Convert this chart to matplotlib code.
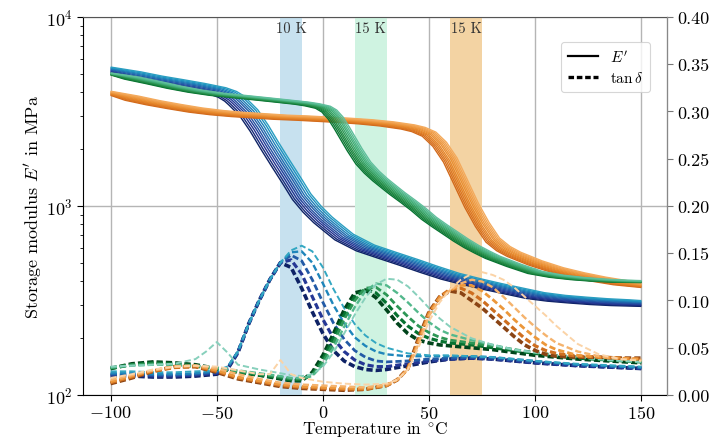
import numpy as np
import matplotlib
matplotlib.use("Agg")
import matplotlib.pyplot as plt
from matplotlib.lines import Line2D
from matplotlib.colors import LinearSegmentedColormap
from matplotlib.ticker import FormatStrFormatter, MultipleLocator

plt.rcParams.update({
    "font.family": "serif",
    "font.serif": ["cmr10"],
    "mathtext.fontset": "cm",
    "axes.formatter.use_mathtext": True,
    "lines.scale_dashes": False,
})

# ---------------- data ----------------
# Storage modulus E' (MPa): base curve per material + per-curve offsets
T_E_BLUE = [-100, -90, -80, -70, -60, -50, -45, -42, -40, -35, -30, -25, -20, -15, -10, -5, 0, 5, 10,
            20, 30, 40, 50, 60, 70, 80, 90, 100, 110, 120, 130, 140, 150]
E_BLUE = [5250, 4950, 4700, 4500, 4300, 4080, 3900, 3720, 3550, 3120, 2580, 2080, 1690, 1380, 1120, 960,
          845, 760, 685, 600, 550, 505, 462, 425, 398, 375, 355, 336, 325, 318, 312, 308, 305]

T_E_GREEN = [-100, -90, -80, -70, -60, -50, -40, -30, -20, -10, -5, 0, 3, 6, 9, 12, 15, 19, 23, 27, 31,
             35, 40, 45, 50, 55, 60, 65, 70, 75, 80, 90, 100, 110, 120, 130, 140, 150]
E_GREEN = [5000, 4750, 4500, 4250, 4050, 3900, 3800, 3700, 3600, 3500, 3430, 3330, 3180, 2920, 2580,
           2260, 1980, 1690, 1510, 1375, 1265, 1165, 1060, 960, 860, 785, 720, 660, 610, 570, 535, 485,
           445, 425, 413, 405, 400, 398]

T_E_ORANGE = [-100, -90, -80, -70, -60, -50, -40, -30, -20, -10, 0, 10, 20, 30, 40, 45, 50, 55, 60, 65,
              70, 75, 80, 85, 90, 100, 110, 120, 130, 140, 150]
E_ORANGE = [3950, 3720, 3520, 3360, 3220, 3120, 3050, 3000, 2950, 2920, 2880, 2840, 2790, 2720, 2620,
            2540, 2400, 2120, 1750, 1330, 1010, 800, 660, 595, 555, 500, 460, 432, 410, 393, 380]

# per-curve temperature offsets (K) and modulus factors of the fan of repeated measurements
DT_BLUE = [-4.3, -3.4, -2.4, -1.4, -0.5, 0.5, 1.4, 2.4, 3.4, 4.3]
F_BLUE = [0.965, 0.973, 0.981, 0.988, 0.996, 1.004, 1.012, 1.019, 1.027, 1.035]
DT_GREEN = [-3.5, -2.7, -1.9, -1.2, -0.4, 0.4, 1.2, 1.9, 2.7, 3.5]
F_GREEN = [0.988, 0.991, 0.993, 0.996, 0.999, 1.001, 1.004, 1.007, 1.009, 1.012]
DT_ORANGE = [-3.2, -2.5, -1.8, -1.1, -0.4, 0.4, 1.1, 1.8, 2.5, 3.2]
F_ORANGE = [0.975, 0.981, 0.986, 0.992, 0.997, 1.003, 1.008, 1.014, 1.019, 1.025]

# loss factor tan(delta)
T_TAN_BLUE = [-100, -90, -80, -70, -60, -50, -45, -40, -35, -30, -25, -20, -15, -10, -5, 0, 5, 10, 15,
              20, 25, 30, 40, 50, 60, 70, 80, 90, 100, 120, 150]
TAN_BLUE = [
    [0.020, 0.020, 0.019, 0.019, 0.020, 0.022, 0.027, 0.045, 0.075, 0.100, 0.122, 0.140, 0.135, 0.113,
     0.088, 0.065, 0.047, 0.036, 0.030, 0.027, 0.026, 0.027, 0.031, 0.035, 0.038, 0.039, 0.038, 0.036,
     0.034, 0.031, 0.028],
    [0.021, 0.021, 0.020, 0.020, 0.021, 0.023, 0.028, 0.045, 0.075, 0.100, 0.122, 0.140, 0.143, 0.128,
     0.104, 0.080, 0.060, 0.046, 0.037, 0.032, 0.030, 0.030, 0.033, 0.036, 0.038, 0.039, 0.038, 0.036,
     0.034, 0.031, 0.028],
    [0.022, 0.022, 0.021, 0.021, 0.022, 0.024, 0.028, 0.046, 0.075, 0.100, 0.122, 0.140, 0.148, 0.142,
     0.122, 0.098, 0.076, 0.059, 0.047, 0.040, 0.036, 0.035, 0.036, 0.038, 0.039, 0.040, 0.039, 0.037,
     0.035, 0.032, 0.029],
    [0.023, 0.023, 0.022, 0.022, 0.023, 0.025, 0.029, 0.046, 0.075, 0.100, 0.122, 0.140, 0.151, 0.152,
     0.140, 0.118, 0.095, 0.076, 0.061, 0.052, 0.046, 0.043, 0.041, 0.041, 0.041, 0.041, 0.040, 0.038,
     0.036, 0.032, 0.029],
    [0.025, 0.025, 0.024, 0.024, 0.025, 0.026, 0.030, 0.046, 0.075, 0.100, 0.122, 0.140, 0.153, 0.158,
     0.152, 0.135, 0.112, 0.092, 0.075, 0.063, 0.055, 0.050, 0.044, 0.042, 0.042, 0.041, 0.040, 0.038,
     0.036, 0.033, 0.030],
]

T_TAN_GREEN = [-100, -90, -80, -70, -60, -55, -50, -45, -40, -30, -20, -15, -10, -5, 0, 5, 10, 15, 20,
               25, 30, 35, 40, 45, 50, 55, 60, 70, 80, 90, 100, 110, 120, 135, 150]
TAN_GREEN = [
    [0.028, 0.033, 0.035, 0.034, 0.032, 0.030, 0.028, 0.026, 0.024, 0.021, 0.017, 0.015, 0.015, 0.024,
     0.042, 0.065, 0.090, 0.108, 0.111, 0.103, 0.090, 0.076, 0.065, 0.058, 0.055, 0.053, 0.052, 0.050,
     0.048, 0.045, 0.042, 0.040, 0.038, 0.036, 0.034],
    [0.028, 0.032, 0.034, 0.033, 0.031, 0.029, 0.028, 0.026, 0.024, 0.021, 0.018, 0.016, 0.016, 0.022,
     0.038, 0.060, 0.085, 0.104, 0.112, 0.108, 0.097, 0.084, 0.073, 0.065, 0.060, 0.057, 0.055, 0.053,
     0.050, 0.047, 0.044, 0.041, 0.039, 0.037, 0.035],
    [0.029, 0.032, 0.033, 0.032, 0.030, 0.029, 0.028, 0.026, 0.025, 0.022, 0.019, 0.017, 0.017, 0.021,
     0.035, 0.055, 0.080, 0.100, 0.113, 0.114, 0.106, 0.094, 0.083, 0.073, 0.066, 0.061, 0.058, 0.055,
     0.052, 0.048, 0.045, 0.042, 0.040, 0.037, 0.035],
    [0.029, 0.031, 0.032, 0.032, 0.031, 0.030, 0.029, 0.027, 0.026, 0.023, 0.020, 0.018, 0.018, 0.020,
     0.032, 0.050, 0.072, 0.093, 0.110, 0.118, 0.116, 0.108, 0.098, 0.087, 0.077, 0.069, 0.064, 0.058,
     0.053, 0.048, 0.045, 0.042, 0.040, 0.037, 0.035],
    [0.030, 0.031, 0.032, 0.033, 0.038, 0.046, 0.056, 0.045, 0.032, 0.027, 0.023, 0.021, 0.020, 0.022,
     0.030, 0.045, 0.065, 0.085, 0.103, 0.117, 0.123, 0.122, 0.115, 0.104, 0.092, 0.081, 0.072, 0.060,
     0.053, 0.048, 0.045, 0.042, 0.040, 0.037, 0.035],
]

T_TAN_ORANGE = [-100, -90, -80, -70, -60, -50, -40, -30, -25, -20, -15, -10, 0, 10, 20, 30, 35, 40, 45,
                50, 55, 60, 65, 70, 75, 80, 85, 90, 95, 100, 105, 110, 120, 130, 140, 150]
TAN_ORANGE = [
    [0.012, 0.018, 0.025, 0.030, 0.030, 0.024, 0.017, 0.013, 0.011, 0.009, 0.008, 0.007, 0.006, 0.005,
     0.006, 0.010, 0.016, 0.028, 0.060, 0.088, 0.104, 0.110, 0.108, 0.100, 0.092, 0.082, 0.072, 0.062,
     0.053, 0.047, 0.043, 0.041, 0.040, 0.040, 0.039, 0.039],
    [0.013, 0.019, 0.025, 0.029, 0.030, 0.025, 0.018, 0.014, 0.012, 0.010, 0.009, 0.008, 0.007, 0.006,
     0.006, 0.010, 0.016, 0.028, 0.058, 0.087, 0.104, 0.112, 0.113, 0.108, 0.100, 0.090, 0.080, 0.070,
     0.060, 0.052, 0.047, 0.044, 0.041, 0.040, 0.039, 0.038],
    [0.014, 0.020, 0.026, 0.030, 0.031, 0.026, 0.019, 0.015, 0.013, 0.011, 0.010, 0.009, 0.008, 0.007,
     0.007, 0.010, 0.016, 0.027, 0.056, 0.086, 0.103, 0.111, 0.116, 0.116, 0.110, 0.101, 0.091, 0.080,
     0.070, 0.061, 0.053, 0.048, 0.042, 0.040, 0.039, 0.038],
    [0.016, 0.021, 0.026, 0.030, 0.031, 0.028, 0.022, 0.017, 0.015, 0.013, 0.012, 0.011, 0.010, 0.009,
     0.008, 0.011, 0.016, 0.027, 0.054, 0.084, 0.101, 0.111, 0.118, 0.122, 0.120, 0.114, 0.104, 0.093,
     0.082, 0.072, 0.063, 0.055, 0.046, 0.041, 0.038, 0.037],
    [0.018, 0.022, 0.027, 0.030, 0.031, 0.030, 0.026, 0.022, 0.022, 0.037, 0.022, 0.018, 0.014, 0.012,
     0.011, 0.012, 0.016, 0.027, 0.050, 0.078, 0.098, 0.112, 0.122, 0.128, 0.130, 0.127, 0.122, 0.114,
     0.104, 0.094, 0.084, 0.073, 0.054, 0.043, 0.038, 0.036],
]

BAND_LEFT = [-20, 15, 60]
BAND_RIGHT = [-10, 30, 75]
BAND_LABELS = ["10 K", "15 K", "15 K"]

X_TICKS = [-100, -50, 0, 50, 100, 150]

# ---------------- styles ----------------
BAND_COLORS = ["#c7e1ef", "#cff3e1", "#f3d3a3"]
ORANGE_E_CMAP = LinearSegmentedColormap.from_list("oe", ["#f4aa5c", "#e88a2c", "#d2691a"])
ORANGE_T_CMAP = LinearSegmentedColormap.from_list(
    "ot", ["#fbd3a6", "#f5b36d", "#ec973a", "#cf6e1f", "#8a4414"])

# ---------------- figure ----------------
fig = plt.figure(figsize=(7.28, 4.39), dpi=100)
ax = fig.add_axes([0.114, 0.098, 0.802, 0.861])
ax2 = ax.twinx()
ax2.set_position([0.114, 0.098, 0.802, 0.861])

ax.set_xlim(-113, 162)
ax.set_yscale("log")
ax.set_ylim(100, 10000)
ax2.set_ylim(0, 0.40)

for l, r, c, lab in zip(BAND_LEFT, BAND_RIGHT, BAND_COLORS, BAND_LABELS):
    ax.axvspan(l, r, color=c, lw=0, zorder=1)
    ax.text((l + r) / 2, 0.971, lab, transform=ax.get_xaxis_transform(), ha="center", va="center",
            fontsize=10.5, color="#333333", zorder=3)

ax.set_xticks(X_TICKS)
ax.grid(True, which="major", color="#b5b5b5", lw=1.0, zorder=0)
ax.set_axisbelow(True)


def draw_fan(T, E, dts, fs, cmap, c0, c1, order_z):
    cm = plt.get_cmap(cmap) if isinstance(cmap, str) else cmap
    n = len(dts)
    for i, (dt, f) in enumerate(zip(dts, fs)):
        t = np.array(T, dtype=float)
        t[1:-1] = t[1:-1] + dt
        ax.plot(t, np.array(E, dtype=float) * f, color=cm(c0 + (c1 - c0) * i / (n - 1)),
                lw=1.0, zorder=order_z, solid_capstyle="butt")


draw_fan(T_E_BLUE, E_BLUE, DT_BLUE, F_BLUE, "YlGnBu", 0.97, 0.58, 4)
draw_fan(T_E_ORANGE, E_ORANGE, DT_ORANGE, F_ORANGE, ORANGE_E_CMAP, 1.0, 0.0, 5)
draw_fan(T_E_GREEN, E_GREEN, DT_GREEN, F_GREEN, "BuGn", 0.85, 0.52, 6)


def draw_tan(T, curves, cmap, c0, c1, z):
    cm = plt.get_cmap(cmap) if isinstance(cmap, str) else cmap
    n = len(curves)
    lws = np.linspace(2.6, 1.4, n)
    for i, y in enumerate(curves):
        ax2.plot(T, y, color=cm(c0 + (c1 - c0) * i / (n - 1)), lw=lws[i],
                 dashes=(4.5, 2.2), zorder=z)


draw_tan(T_TAN_BLUE, TAN_BLUE, "YlGnBu", 0.97, 0.55, 3)
draw_tan(T_TAN_GREEN, TAN_GREEN, "BuGn", 1.0, 0.42, 4)
draw_tan(T_TAN_ORANGE, TAN_ORANGE, ORANGE_T_CMAP, 1.0, 0.0, 5)

ax2.yaxis.set_major_locator(MultipleLocator(0.05))
ax2.yaxis.set_major_formatter(FormatStrFormatter("%.2f"))

for a in (ax, ax2):
    a.tick_params(labelsize=13)
ax.tick_params(axis="both", which="major", length=4)
ax.tick_params(axis="x", pad=2.5)
ax2.tick_params(axis="y", colors="#777777", labelcolor="black", length=4)

ax.spines["left"].set_color("black")
ax.spines["bottom"].set_color("black")
ax.spines["top"].set_color("#555555")
ax2.spines["right"].set_color("#888888")
for s in ("left", "bottom", "top"):
    ax2.spines[s].set_visible(False)

fig.text(0.515, 4 / 439, r"Temperature in $^{\circ}$C", fontsize=12.5, ha="center", va="baseline")
ax.set_ylabel(r"Storage modulus $E'$ in MPa", fontsize=13, labelpad=1)

handles = [Line2D([], [], color="black", lw=1.6),
           Line2D([], [], color="black", lw=2.4, dashes=(4.0, 2.0))]
leg = ax2.legend(handles, [r"$E'$", r"$\tan\delta$"], loc="upper right",
                 bbox_to_anchor=(0.985, 0.955), fontsize=11, frameon=True, fancybox=True,
                 handlelength=2.0, borderpad=0.45, labelspacing=0.35, handletextpad=0.8)
leg.get_frame().set_edgecolor("#cccccc")
leg.get_frame().set_linewidth(0.8)

fig.savefig("out.png", dpi=100)
